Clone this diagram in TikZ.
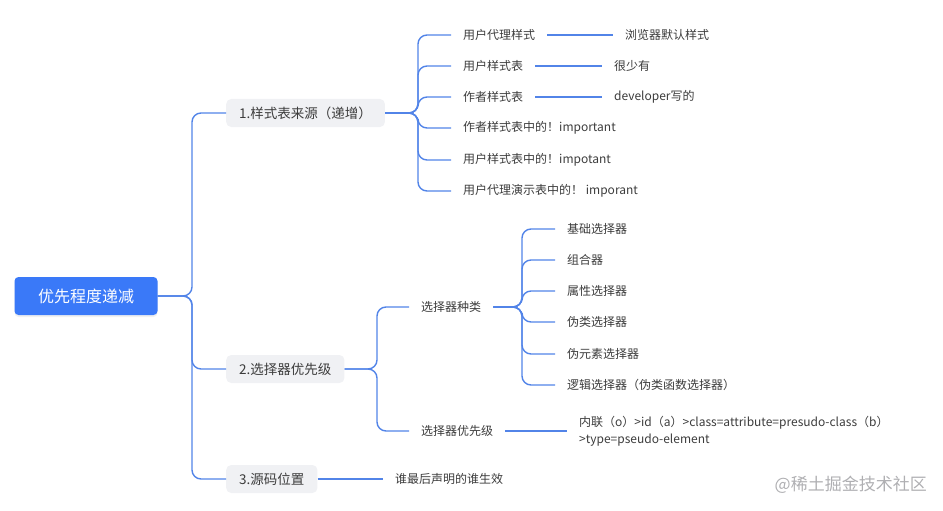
\documentclass[tikz,border=0pt]{standalone}
\usepackage{fontspec}
\setmainfont{Noto Sans CJK SC}
\usetikzlibrary{shadows}
\definecolor{linec}{RGB}{82,132,232}
\definecolor{rootc}{RGB}{58,121,248}
\definecolor{boxc}{RGB}{240,241,244}
\definecolor{txtc}{RGB}{60,60,60}
\definecolor{wmc}{RGB}{175,175,178}
\begin{document}
\begin{tikzpicture}[x=1pt,y=-1pt,
  rootbox/.style={fill=rootc,rounded corners=4pt,text=white,font=\fontsize{16}{18}\selectfont,
    minimum width=143pt,minimum height=38pt,inner sep=0pt,
    drop shadow={opacity=0.12,shadow xshift=0pt,shadow yshift=-2pt}},
  branchbox/.style={fill=boxc,rounded corners=5pt,text=txtc,font=\fontsize{13.5}{16}\selectfont,
    minimum height=28pt,inner xsep=13pt,inner ysep=0pt,anchor=west},
  leaf/.style={text=txtc,font=\fontsize{12}{17}\selectfont,inner xsep=12pt,inner ysep=2pt,anchor=west},
  conn/.style={draw=linec,line width=1.4pt,rounded corners=9pt}
]
\useasboundingbox (0,0) rectangle (943,511);

% root
\node[rootbox] (root) at (86,296) {优先程度递减};

% branches
\node[branchbox] (b1) at (226,113) {1.样式表来源（递增）};
\node[branchbox] (b2) at (226,369) {2.选择器优先级};
\node[branchbox] (b3) at (226,479) {3.源码位置};

% junctions
\coordinate (j0) at (192,296);
\coordinate (j1) at (418,113);
\coordinate (j2) at (377,369);
\coordinate (j3) at (522,307);

% branch 1 children
\node[leaf] (c11) at (451,35) {用户代理样式};
\node[leaf] (c12) at (451,66) {用户样式表};
\node[leaf] (c13) at (451,97) {作者样式表};
\node[leaf] (c14) at (451,128) {作者样式表中的！important};
\node[leaf] (c15) at (451,160) {用户样式表中的！impotant};
\node[leaf] (c16) at (451,191) {用户代理演示表中的！ imporant};

\node[leaf] (d11) at (613,35) {浏览器默认样式};
\node[leaf] (d12) at (602,66) {很少有};
\node[leaf] (d13) at (602,97) {developer写的};

% branch 2 children
\node[leaf] (c21) at (409,307) {选择器种类};
\node[leaf] (c22) at (409,431) {选择器优先级};

\node[leaf] (e1) at (555,229) {基础选择器};
\node[leaf] (e2) at (555,260) {组合器};
\node[leaf] (e3) at (555,291) {属性选择器};
\node[leaf] (e4) at (555,322) {伪类选择器};
\node[leaf] (e5) at (555,354) {伪元素选择器};
\node[leaf] (e6) at (555,385) {逻辑选择器（伪类函数选择器）};

\node[leaf,align=left] (f1) at (567,431) {内联（o）>id（a）>class=attribute=presudo-class（b）\\>type=pseudo-element};

% branch 3 child
\node[leaf] (c31) at (383,479) {谁最后声明的谁生效};

% watermark
\node[text=wmc,font=\fontsize{17}{19}\selectfont,anchor=east,inner sep=0pt] (wm) at (927,485) {@稀土掘金技术社区};

% connectors
\foreach \b in {b1,b2,b3}
  \draw[conn] (root.east) -- (j0) |- (\b.west);

\foreach \c in {c11,c12,c13,c14,c15,c16}
  \draw[conn] (b1.east) -- (j1) |- (\c.west);

\draw[conn] (c11.east) -- (d11.west);
\draw[conn] (c12.east) -- (d12.west);
\draw[conn] (c13.east) -- (d13.west);

\foreach \c in {c21,c22}
  \draw[conn] (b2.east) -- (j2) |- (\c.west);

\foreach \c in {e1,e2,e3,e4,e5,e6}
  \draw[conn] (c21.east) -- (j3) |- (\c.west);

\draw[conn] (c22.east) -- (f1.west);
\draw[conn] (b3.east) -- (c31.west);
\end{tikzpicture}
\end{document}
